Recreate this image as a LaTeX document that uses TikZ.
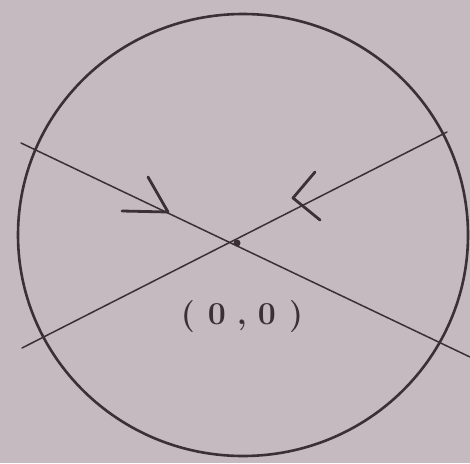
\documentclass[tikz,border=0pt]{standalone}
\definecolor{paper}{RGB}{197,186,191}
\definecolor{pencil}{RGB}{58,48,54}
\begin{document}
\begin{tikzpicture}[x=1pt,y=-1pt,
  ink/.style={draw=pencil, line cap=round, line join=round},
  rim/.style={ink, line width=2.6pt},
  ray/.style={ink, line width=1.5pt},
  arrowhead/.style={ink, line width=2.8pt},
  lbl/.style={text=pencil, inner sep=0pt, font=\fontsize{32}{36}\selectfont\bfseries}]
\fill[paper] (0,0) rectangle (470,463);
\useasboundingbox (0,0) rectangle (470,463);
\coordinate (C) at (243,235);
\draw[rim] (C) ellipse [x radius=225pt, y radius=221pt];
\coordinate (a1) at (21,143);
\coordinate (a2) at (470,357);
\coordinate (b1) at (22,348);
\coordinate (b2) at (447,132);
\draw[ray] (a1) -- (a2);
\draw[ray] (b1) -- (b2);
\coordinate (O) at (237,243);
\fill[pencil] (O) circle [radius=3.5pt];
% arrow on first line
\coordinate (t1) at (168,212);
\coordinate (u1) at (148,177);
\coordinate (l1) at (122,211);
\draw[arrowhead] (u1) -- (t1) -- (l1);
% arrow on second line
\coordinate (t2) at (293,198);
\coordinate (u2) at (315,172);
\coordinate (l2) at (320,220);
\draw[arrowhead] (u2) -- (t2) -- (l2);
\node[lbl] (L) at (242,317) {(\hspace{13pt}0\hspace{11pt},\hspace{11pt}0\hspace{13pt})};
\end{tikzpicture}
\end{document}
